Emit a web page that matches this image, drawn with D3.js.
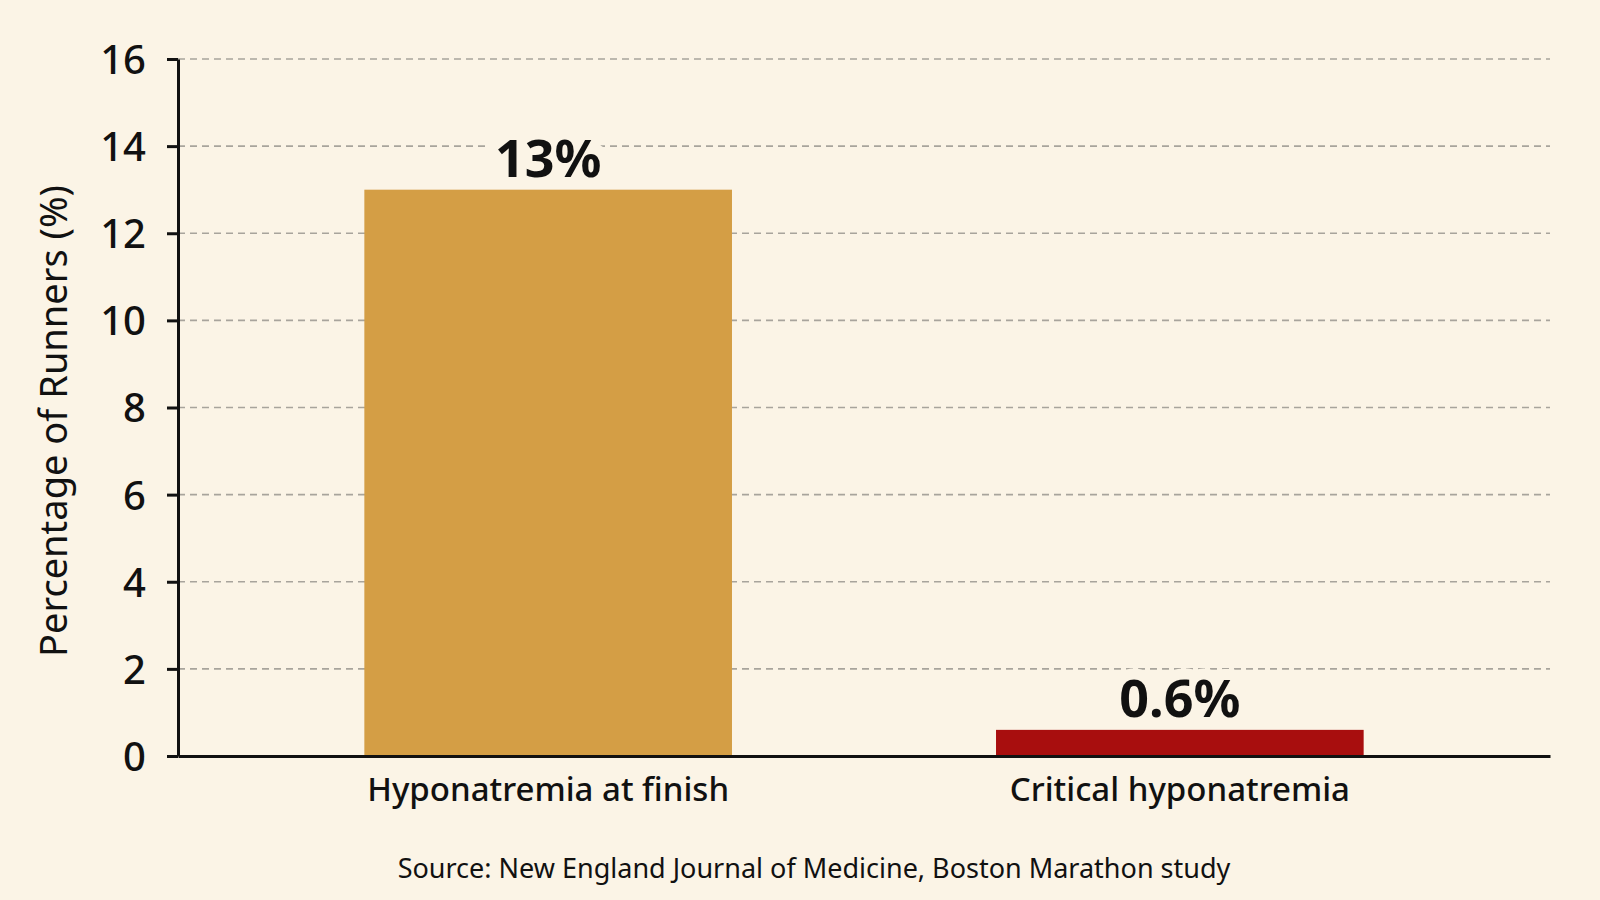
<!DOCTYPE html>
<html>
<head>
<meta charset="utf-8">
<script src="https://cdn.jsdelivr.net/npm/d3@7"></script>
<style>
  html, body { margin: 0; padding: 0; background: #fbf4e6; }
  svg { display: block; font-family: "Noto Sans", "Open Sans", sans-serif; }
</style>
</head>
<body>
<svg id="chart"></svg>
<script>
// values
var categories = ["Hyponatremia at finish", "Critical hyponatremia"]
var values = [13, 0.6]
var valueLabels = ["13%", "0.6%"]
var barColors = ["#d49e45", "#a80e0e"]
var yTicks = [0, 2, 4, 6, 8, 10, 12, 14, 16]
var yTitle = "Percentage of Runners (%)"
var sourceNote = "Source: New England Journal of Medicine, Boston Marathon study"

var dimensions = {
    width: 1600,
    height: 900,
    margin: {
        top: 59,
        bottom: 144,
        right: 50,
        left: 178
    }
}

var svg = d3.select("#chart")
            .attr("width", dimensions.width)
            .attr("height", dimensions.height)

svg.append("rect")
    .attr("width", dimensions.width)
    .attr("height", dimensions.height)
    .attr("fill", "#fbf4e6")

var xScale = d3.scaleBand()
                .domain(categories)
                .range([dimensions.margin.left, dimensions.width - dimensions.margin.right])
                .paddingInner(0.418)
                .paddingOuter(0.295)

var yScale = d3.scaleLinear()
                .domain([0, 16])
                .range([dimensions.height - dimensions.margin.bottom, dimensions.margin.top])

//dashed grid lines first so bars sit on top
svg.append("g")
    .selectAll("line")
    .data(yTicks.filter(d => d > 0))
    .enter()
    .append("line")
    .attr("x1", dimensions.margin.left)
    .attr("x2", dimensions.width - dimensions.margin.right)
    .attr("y1", d => yScale(d))
    .attr("y2", d => yScale(d))
    .attr("stroke", "#a8a49c")
    .attr("stroke-width", 1.6)
    .attr("stroke-dasharray", "7,5")

//value labels, halo knocks out the grid line behind them
//(drawn before the bars so the halo never covers a bar)
svg.append("g")
    .selectAll("text")
    .data(categories)
    .enter()
    .append("text")
    .attr("x", d => xScale(d) + xScale.bandwidth() / 2)
    .attr("y", (d, i) => yScale(values[i]) - 13)
    .attr("text-anchor", "middle")
    .attr("font-size", 52)
    .attr("font-weight", "bold")
    .attr("fill", "#111")
    .attr("stroke", "#fbf4e6")
    .attr("stroke-width", 22)
    .attr("stroke-linejoin", "round")
    .attr("paint-order", "stroke")
    .text((d, i) => valueLabels[i])

var bars = svg.append("g")
    .selectAll("rect")
    .data(categories)
    .enter()
    .append("rect")
    .attr("x", d => xScale(d))
    .attr("width", xScale.bandwidth())
    .attr("y", (d, i) => yScale(values[i]))
    .attr("height", (d, i) => yScale(0) - yScale(values[i]))
    .attr("fill", (d, i) => barColors[i])

var yAxisgen = d3.axisLeft(yScale)
                .tickValues(yTicks)
                .tickSize(11)
                .tickSizeOuter(0)
                .tickPadding(21)

var yAxis = svg.append("g")
                .attr("transform", `translate(${dimensions.margin.left},0)`)
                .call(yAxisgen)

yAxis.select(".domain").attr("stroke", "#111").attr("stroke-width", 3)
yAxis.selectAll(".tick line").attr("stroke", "#111").attr("stroke-width", 3)
yAxis.selectAll(".tick text")
    .attr("font-size", 40)
    .attr("font-weight", 500)
    .attr("font-family", "Noto Sans")
    .attr("fill", "#111")
    .attr("dy", "0.36em")

var xAxisgen = d3.axisBottom(xScale)
                .tickSize(0)
                .tickSizeOuter(0)
                .tickPadding(0)

var xAxis = svg.append("g")
                .attr("transform", `translate(0,${yScale(0)})`)
                .call(xAxisgen)

xAxis.select(".domain").attr("stroke", "#111").attr("stroke-width", 3)
xAxis.selectAll(".tick text")
    .attr("font-size", 33)
    .attr("font-weight", 500)
    .attr("font-family", "Noto Sans")
    .attr("fill", "#111")
    .attr("y", 45)
    .attr("dy", 0)

//y axis title
svg.append("text")
    .attr("transform", "translate(52,421) rotate(-90)")
    .attr("text-anchor", "middle")
    .attr("dominant-baseline", "central")
    .attr("font-size", 38)
    .attr("fill", "#111")
    .text(yTitle)

svg.append("text")
    .attr("x", 814)
    .attr("y", 878)
    .attr("text-anchor", "middle")
    .attr("font-size", 27)
    .attr("fill", "#111")
    .text(sourceNote)
</script>
</body>
</html>
